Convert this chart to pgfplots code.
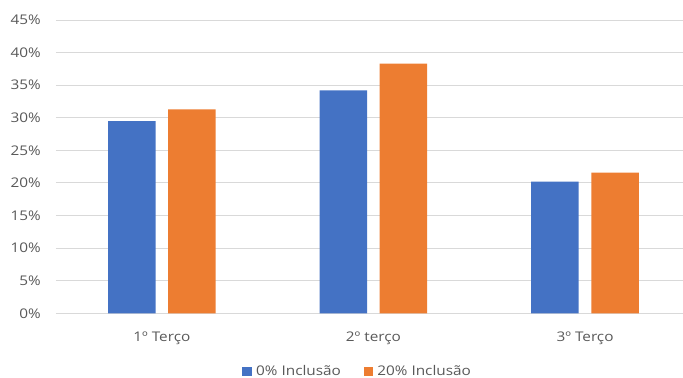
\documentclass[border=0pt]{standalone}
\usepackage{pgfplots}
\pgfplotsset{compat=1.18}
\usepackage{fontspec}
\setmainfont{Open Sans}[FakeStretch=1.15]
\definecolor{cblue}{HTML}{4472C4}
\definecolor{corange}{HTML}{ED7D31}
\definecolor{cgrid}{HTML}{D9D9D9}
\definecolor{ctext}{HTML}{595959}
\begin{document}
\begin{tikzpicture}[x=1pt,y=1pt]
\useasboundingbox (-42,-48.5) rectangle (470.25,235);
\begin{axis}[
  at={(0,0)}, anchor=south west,
  scale only axis, width=470.25pt, height=220pt,
  xmin=-0.5, xmax=2.463, ymin=0, ymax=45,
  ytick={0,5,...,45},
  yticklabel={\pgfmathprintnumber{\tick}\%},
  xtick={0,1,2},
  xticklabels={1º Terço, 2º terço, 3º Terço},
  major tick length=0pt,
  axis line style={draw=none},
  ymajorgrids, grid style={cgrid, line width=0.75pt},
  tick label style={font=\fontsize{10}{12}\selectfont, text=ctext},
  yticklabel style={inner sep=0pt, xshift=-11.25pt},
  xticklabel style={inner sep=0pt, anchor=center, yshift=-19pt},
  /pgf/number format/assume math mode=true,
  bar width=0.2245,
  legend style={draw=none, at={(0.4817,-0.197)}, anchor=center,
    font=\fontsize{10}{12}\selectfont, text=ctext, legend columns=2,
    /tikz/every odd column/.append style={column sep=1.5pt},
    /tikz/every even column/.append style={column sep=15pt},
    inner sep=0pt},
  legend image code/.code={\fill[#1] (0pt,-3.4pt) rectangle (6.8pt,3.4pt);},
  clip=false,
]
\draw[cgrid, line width=0.75pt] (axis cs:-0.5,0) -- (axis cs:2.463,0);
\addplot[ybar, fill=cblue, draw=none, bar shift=-0.142] coordinates {(0,29.5) (1,34.2) (2,20.2)};
\addplot[ybar, fill=corange, draw=none, bar shift=0.142] coordinates {(0,31.3) (1,38.3) (2,21.6)};
\legend{0\% Inclusão, 20\% Inclusão}
\end{axis}
\end{tikzpicture}
\end{document}
